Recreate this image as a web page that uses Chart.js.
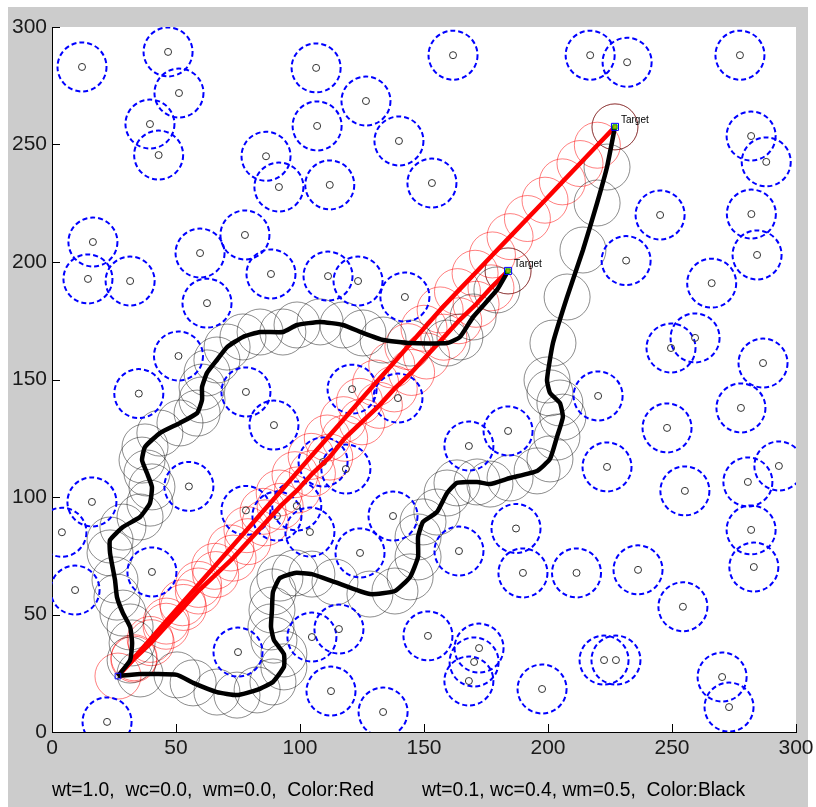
<!DOCTYPE html>
<html>
<head>
<meta charset="utf-8">
<script src="https://cdn.jsdelivr.net/npm/chart.js@4.4.1/dist/chart.umd.min.js"></script>
<style>
  html, body { margin: 0; padding: 0; background: #fff; }
  #frame { position: absolute; left: 8px; top: 7px; width: 800px; height: 800px; background: #cccccc; }
  #wrap { position: absolute; left: 0; top: 0; width: 816px; height: 807px; }
</style>
</head>
<body>
<div id="frame"></div>
<div id="wrap"><canvas id="c" width="816" height="807"></canvas></div>
<script>
// tick labels
const xTicks = [0, 50, 100, 150, 200, 250, 300];
const yTicks = [0, 50, 100, 150, 200, 250, 300];

// obstacle centres (blue dashed circles)
const obstacleX = [12.1, 46.8, 51.2, 39.5, 43, 86.3, 91.5, 77.8, 16.5, 59.7, 88.3, 14.5, 31.5,
  106.5, 161.7, 106.9, 126.6, 139.9, 112, 153.2, 217, 231.9, 277.4, 281.9, 288, 245.2, 282, 284.3,
  231.5, 266, 111.3, 123.4, 142.3, 62.5, 51, 35,
  78.2, 121, 139.5, 89.5, 109.3, 118.5, 78.2, 90.7, 98.7, 104, 137.5, 55.2, 16.1, 4, 124.2, 164.1,
  187.1, 168.1, 183.9, 220.2, 223.8,
  249.6, 259.3, 286.7, 277.8, 248, 293.1, 280.6, 255.2, 281.9, 283, 236.3, 211.5, 189.9, 254.4,
  40.3, 9.3, 75, 104.8, 115.7, 112.5, 22.2, 133.5, 151.6, 172.2, 170.2, 168.1, 197.6, 222.6, 227.4,
  270.2, 273];
const obstacleY = [283, 289.4, 271.9, 258.7, 245.5, 245, 231.9, 211.5, 208.5, 203.8, 194.9, 192.8, 191.9,
  282.6, 288, 257.9, 268.5, 251.5, 232.8, 233.6, 288, 285, 288, 253.6, 242.6, 220, 220.4, 203,
  200.6, 191, 194, 191.9, 185.1, 182.5, 160, 144,
  144.7, 145.9, 142.1, 130.6, 114.9, 111.9, 94.3, 91.9, 96.2, 85.1, 91.9, 104.5, 97.9, 85, 76.2, 77,
  86.6, 121.7, 128.1, 143, 112.8,
  163.4, 167.7, 157, 137.9, 129.4, 113.2, 106.4, 102.6, 86, 70.2, 69, 67.7, 67.7, 53.3,
  68.1, 60.4, 34, 40.4, 43.8, 17.4, 4.3, 8.5, 40.9, 35.7, 29.8, 21.7, 18.3, 30.6, 30.6,
  23.4, 10.6];

const startPoint = [26.6, 23.8];
const targetPoints = [[183.9, 196.2], [227, 257.5]];

// red runs (wt=1.0): sensor positions along each run
const redPath1 = [[26.6, 23.8], [33, 31], [40, 38], [46, 45], [53, 53], [59, 60], [66, 67], [73, 74],
  [79, 81], [86, 89], [92, 96], [99, 103], [105, 110], [112, 117], [118, 125], [125, 132], [132, 139],
  [138, 146], [145, 153], [151, 160], [158, 168], [164, 175], [171, 182], [177, 189], [183.9, 196.2]];
const redPath2 = [[26.6, 23.8], [33.1, 31.6], [39.6, 39.4], [46.1, 47.2], [52.6, 55], [59.1, 62.8],
  [65.6, 70.5], [72.1, 78.3], [78.6, 86.1], [85.1, 93.9], [91.6, 101.7], [98, 109.5], [104.5, 117.3],
  [111, 125.1], [117.5, 132.9], [124, 140.7], [130.5, 148.5], [137, 156.2], [143.5, 164], [150, 171.8],
  [156.5, 179.6], [163.5, 187.4], [170.6, 195.2], [177.6, 203], [184.7, 210.8], [191.7, 218.5],
  [198.8, 226.3], [205.8, 234.1], [212.9, 241.9], [219.9, 249.7], [227, 257.5]];

// black runs (wt=0.1, wc=0.4, wm=0.5)
const blackPath1 = [[26.6, 23.8], [31.5, 30.6], [32.3, 37.9], [31.5, 44.7], [28.6, 50.6], [26.2, 57.4],
  [25.4, 64.7], [23.4, 76.2], [23.4, 81.7], [28.6, 87.2], [35.5, 91.5], [39.5, 97.4], [40.3, 104.3],
  [38.3, 110.2], [36.3, 115.7], [37.5, 121.3], [43.5, 127.2], [51.6, 131.5], [58.5, 135.7], [60.5, 141.3],
  [60.5, 146.8], [62.5, 152.8], [66.5, 158.3], [70.6, 163.8], [77, 168.1], [83.9, 170.2], [93.1, 170.2],
  [98.8, 173.2], [108.1, 174.5], [117.3, 173.2], [125.4, 169.8], [133.5, 166.8], [144.4, 165.5],
  [159.3, 165.5], [164.5, 168.1], [169.8, 176.6], [179.4, 188.1], [183.9, 196.2]];
const blackPath2 = [[26.6, 23.8], [35.5, 24.7], [50.4, 24.3], [56.9, 20.9], [66.5, 17], [74.6, 15.7],
  [82.7, 17.9], [89.1, 21.3], [93.5, 27.7], [93.5, 33.2], [89.5, 39.1], [88.3, 44.7], [88.7, 51.9],
  [89.1, 59.6], [91.9, 65.5], [98, 67.7], [104.8, 67.2], [114.1, 63.8], [128.2, 58.7], [138.3, 60],
  [144.4, 66], [147.6, 74.5], [147.6, 83], [149.6, 89.4], [155.2, 93.6], [159.3, 101.7], [163.3, 106],
  [171.4, 106.4], [176.6, 105.5], [184.7, 108.1], [195.6, 111.1], [200.8, 116.2], [203.6, 125.5],
  [206, 134], [204.8, 140], [200.8, 144.3], [199.6, 149.8], [202, 165.5], [207.7, 185.1], [214.1, 205.1],
  [219.8, 225.1], [223.8, 240.4], [227, 257.5]];

const captions = ['wt=1.0,  wc=0.0,  wm=0.0,  Color:Red', 'wt=0.1, wc=0.4, wm=0.5,  Color:Black'];

const FONT = '"Liberation Sans", Arial, sans-serif';
const pts = arr => arr.map(p => ({ x: p[0], y: p[1] }));
const obstacles = obstacleX.map((x, i) => ({ x, y: obstacleY[i] }));

const matlabLook = {
  id: 'matlabLook',
  beforeDraw(chart) {
    const { ctx, chartArea: a } = chart;
    ctx.save();
    ctx.fillStyle = '#fff';
    ctx.fillRect(a.left, a.top, a.right - a.left, a.bottom - a.top);
    ctx.restore();
  },
  beforeDatasetDraw(chart, args) {
    chart.ctx.save();
    if (chart.data.datasets[args.index].dashed) chart.ctx.setLineDash([5, 3]);
  },
  afterDatasetDraw(chart) {
    chart.ctx.restore();
  },
  afterDraw(chart) {
    const { ctx, chartArea: a, scales: { x, y } } = chart;
    ctx.save();
    // inward tick marks
    ctx.strokeStyle = '#000';
    ctx.lineWidth = 1;
    ctx.beginPath();
    xTicks.forEach(v => {
      const px = Math.round(x.getPixelForValue(v)) + 0.5;
      ctx.moveTo(px, a.bottom); ctx.lineTo(px, a.bottom - 8);
    });
    yTicks.forEach(v => {
      const py = Math.round(y.getPixelForValue(v)) + 0.5;
      ctx.moveTo(a.left, py); ctx.lineTo(a.left + 8, py);
    });
    ctx.stroke();
    // x tick labels (drawn here so the last label does not squeeze the plot)
    ctx.fillStyle = '#1a1a1a';
    ctx.font = '21px ' + FONT;
    ctx.textAlign = 'center';
    ctx.textBaseline = 'alphabetic';
    xTicks.forEach(v => ctx.fillText(String(v), x.getPixelForValue(v), a.bottom + 22));
    // target labels
    ctx.fillStyle = '#000';
    ctx.textAlign = 'left';
    ctx.font = '10px ' + FONT;
    ctx.textBaseline = 'middle';
    targetPoints.forEach(p => {
      ctx.fillText('Target', x.getPixelForValue(p[0]) + 6, y.getPixelForValue(p[1]) - 7);
    });
    // captions under the axes
    ctx.font = '19.3px ' + FONT;
    ctx.textBaseline = 'alphabetic';
    ctx.fillText(captions[0], 52, 796);
    ctx.fillText(captions[1], 422, 796);
    ctx.restore();
  },
};

const base = { clip: 0, pointHoverRadius: 0 };

new Chart(document.getElementById('c'), {
  type: 'scatter',
  data: {
    datasets: [
      { ...base, data: pts(targetPoints), pointStyle: 'rect', pointRadius: 5, borderColor: '#0000ff',
        backgroundColor: 'rgba(0,0,0,0)', borderWidth: 1, order: 0 },
      { ...base, data: pts(targetPoints), pointStyle: 'rect', pointRadius: 3, borderColor: '#00b000',
        backgroundColor: '#b0b000', borderWidth: 1, order: 0 },
      { ...base, data: pts([startPoint]), pointStyle: 'rect', pointRadius: 4, borderColor: '#0000ff',
        backgroundColor: 'rgba(0,0,0,0)', borderWidth: 1, order: 0 },
      { ...base, data: pts(blackPath1), showLine: true, borderColor: '#000', borderWidth: 4.5,
        pointRadius: 0, tension: 0.15, order: 2 },
      { ...base, data: pts(blackPath2), showLine: true, borderColor: '#000', borderWidth: 4.5,
        pointRadius: 0, tension: 0.15, order: 2 },
      { ...base, data: pts(redPath1), showLine: true, borderColor: '#ff0000', borderWidth: 4.5,
        pointRadius: 0, order: 3 },
      { ...base, data: pts(redPath2), showLine: true, borderColor: '#ff0000', borderWidth: 4.5,
        pointRadius: 0, order: 3 },
      { ...base, data: obstacles, pointRadius: 3.5, borderColor: '#333', backgroundColor: 'rgba(0,0,0,0)',
        borderWidth: 1, order: 4 },
      { ...base, data: obstacles, pointRadius: 24.5, borderColor: '#0000ff', backgroundColor: 'rgba(0,0,0,0)',
        borderWidth: 2, dashed: true, order: 4 },
      { ...base, data: pts(blackPath1.slice(1).concat(blackPath2.slice(1))), pointRadius: 23,
        borderColor: 'rgba(0,0,0,0.45)', backgroundColor: 'rgba(0,0,0,0)', borderWidth: 1, order: 5 },
      { ...base, data: pts(redPath1.concat(redPath2.slice(1))), pointRadius: 23, borderColor: 'rgba(255,0,0,0.5)',
        backgroundColor: 'rgba(0,0,0,0)', borderWidth: 1, order: 5 },
    ],
  },
  options: {
    responsive: false,
    animation: false,
    events: [],
    devicePixelRatio: 1,
    layout: { autoPadding: false, padding: { left: 0, top: 27, right: 20, bottom: 0 } },
    plugins: { legend: { display: false }, tooltip: { enabled: false } },
    scales: {
      x: {
        type: 'linear', min: 0, max: 300,
        grid: { display: false, drawTicks: false },
        border: { display: true, color: '#000', width: 1 },
        afterBuildTicks: s => { s.ticks = xTicks.map(v => ({ value: v })); },
        afterFit: s => { s.height = 75; },
        ticks: { display: false },
      },
      y: {
        type: 'linear', min: 0, max: 300,
        grid: { display: false, drawTicks: false },
        border: { display: true, color: '#000', width: 1 },
        afterBuildTicks: s => { s.ticks = yTicks.map(v => ({ value: v })); },
        afterFit: s => { s.width = 52; },
        ticks: { font: { family: FONT, size: 21 }, color: '#1a1a1a', padding: 5 },
      },
    },
  },
  plugins: [matlabLook],
});
</script>
</body>
</html>
